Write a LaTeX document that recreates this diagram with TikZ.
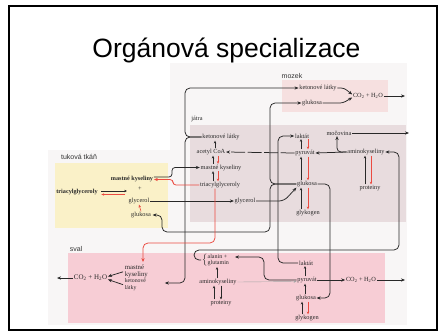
\documentclass[tikz,border=0pt]{standalone}
\usepackage{fontspec}
\setmainfont{Liberation Serif}
\newfontfamily\sansf{Liberation Sans}
\usetikzlibrary{arrows.meta}
\definecolor{redline}{RGB}{235,75,65}
\definecolor{pagebg}{RGB}{248,246,246}
\definecolor{jatrabg}{RGB}{232,220,222}
\definecolor{mozekbg}{RGB}{246,224,224}
\definecolor{tukbg}{RGB}{250,241,200}
\definecolor{svalbg}{RGB}{247,205,213}
\definecolor{ink}{RGB}{40,40,40}
\begin{document}
\begin{tikzpicture}[x=1pt,y=-1pt,
 lbl/.style={font=\fontsize{6.3}{7}\selectfont, inner sep=0.6pt, text=ink},
 blbl/.style={font=\bfseries\fontsize{6.2}{7}\selectfont, inner sep=0.6pt, text=ink},
 reg/.style={font=\sansf\fontsize{7}{8}\selectfont, inner sep=0pt, text=black!80},
 con/.style={draw=ink, line width=0.75pt, rounded corners=5pt},
 arr/.style={con, -{Stealth[length=4pt,width=3.2pt]}},
 sarr/.style={draw=ink, line width=0.6pt, -{Stealth[length=2.8pt,width=2.4pt]}},
 rarr/.style={draw=redline, line width=0.6pt, -{Stealth[length=2.8pt,width=2.4pt]}},
 rcon/.style={draw=redline, line width=0.75pt, rounded corners=5pt, -{Stealth[length=4pt,width=3.2pt]}},
]
\useasboundingbox (0,0) rectangle (439,332);
\fill[white] (0,0) rectangle (439,332);
% backgrounds
\fill[pagebg] (170,63) rectangle (407,150);
\fill[pagebg] (48,150) rectangle (407,325);
\fill[jatrabg] (190,125) rectangle (406,222);
\fill[mozekbg] (282,80) rectangle (388,112);
\fill[tukbg] (55,163) rectangle (168,228);
\fill[svalbg] (68,253) rectangle (385,323);
% frame
\draw[line width=2pt] (9,6) rectangle (437,330);
% title
\node[font=\sansf\fontsize{26.5}{30}\selectfont, inner sep=0pt, anchor=base] (title) at (226.5,57.5) {Orgánová specializace};
% mozek
\node[reg] (mozekL) at (292,76) {mozek};
\node[lbl] (mKL) at (318,88) {ketonové látky};
\node[lbl] (mGl) at (312,103) {glukosa};
\node[lbl] (mCO) at (368,96) {CO\textsubscript{2} + H\textsubscript{2}O};
\coordinate (mOut) at (405,96);
% jatra
\node[lbl] (jatraL) at (197,119) {játra};
\node[lbl] (jKL) at (221,137) {ketonové látky};
\node[lbl] (jAC) at (211,152) {acetyl CoA};
\node[lbl] (jMK) at (221,167.5) {mastné kyseliny};
\node[lbl] (jTG) at (220,185) {triacylglyceroly};
\node[lbl] (jGly) at (245,201) {glycerol};
\node[lbl] (jLak) at (302,136) {laktát};
\node[lbl] (jPyr) at (305,153) {pyruvát};
\node[lbl] (jGlu) at (307,184) {glukosa};
\node[lbl] (jGlg) at (308,213) {glykogen};
\node[lbl] (jMoc) at (339,133) {močovina};
\node[lbl] (jAK) at (366,152) {aminokyseliny};
\node[lbl] (jPro) at (370,188) {proteiny};
\coordinate (jOut) at (409,133);
% tukova tkan
\node[reg] (tukL) at (79,157) {tuková tkáň};
\node[blbl] (tMK) at (132,179) {mastné kyseliny};
\node[blbl] (tTG) at (77,192) {triacylglyceroly};
\node[lbl] (tPlus) at (140,189) {+};
\node[lbl] (tGly) at (139,201) {glycerol};
\node[lbl] (tGlu) at (141,215) {glukosa};
\coordinate (tArrEnd) at (127,191);
\coordinate (tRedStart) at (125,194.5);
% sval
\node[reg] (svalL) at (76,249) {sval};
\node[lbl, font=\fontsize{7}{8}\selectfont] (sCO) at (90.5,278) {CO\textsubscript{2} + H\textsubscript{2}O};
\coordinate (sOut) at (57,278);
\node[lbl, font=\fontsize{6.8}{7}\selectfont, align=left, anchor=west] (sMK) at (124,271.5) {mastné\\kyseliny};
\node[lbl, font=\fontsize{5.8}{7}\selectfont, align=left, anchor=west] (sKL) at (124,285) {ketonové\\látky};
\node[lbl, font=\fontsize{6}{6.2}\selectfont] (sAla) at (216,260) {$\left\{\begin{tabular}{@{}l@{}}alanin +\\glutamin\end{tabular}\right.$};
\node[lbl] (sAK) at (218,282) {aminokyseliny};
\node[lbl] (sPro) at (221,303) {proteiny};
\node[lbl] (sLak) at (306,263) {laktát};
\node[lbl] (sPyr) at (307,280) {pyruvát};
\node[lbl] (sCO2) at (361,280) {CO\textsubscript{2} + H\textsubscript{2}O};
\node[lbl] (sGlu) at (306,298) {glukosa};
\node[lbl] (sGlg) at (307,318) {glykogen};
\coordinate (sOut2) at (405,280);
% ---- connectors: mozek
\draw[arr, rounded corners=3pt] (mKL.east) -- (344,88) -- ([yshift=1.5pt]mCO.west);
\draw[arr, rounded corners=3pt] (mGl.east) -- (343,103) -- ([yshift=-1.5pt]mCO.west);
\draw[arr] (mCO.east) -- (mOut);
% ketonove latky brace
\draw[arr] (jKL.west) -- (185,137) -- (185,88) -- (mKL.west);
\draw[arr, shorten >=18pt] (jKL.west) -- (185,137) -- (185,283) -- (sKL.east |- 0,283);
% tukova <-> jatra
\draw[arr, rounded corners=3pt] ([yshift=2pt]tMK.east) -- (172,177) -- (172,167.5) -- (jMK.west);
\draw[rcon, rounded corners=3pt] (jTG.west) -- (173,185) -- (173,179.5) -- ([yshift=-0.5pt]tMK.east);
\draw[sarr, shorten <=3pt] ([yshift=1pt]tTG.east) -- (tArrEnd);
\draw[rarr, shorten >=3pt] (tRedStart) -- (tTG.east |- tRedStart);
\draw[rarr] (tGlu.north) -- (tGly.south);
\draw[arr] (tGly.east) -- (jGly.west);
% glycerol -> glukosa
\draw[arr] (jGly.east) -- (284,201) -- (jGlu.south west);
% glukosa brace
\draw[arr] (jGlu.west) -- (270,184) -- (270,103) -- (mGl.west);
\draw[arr, shorten >=1pt] (jGlu.west) -- (270,184) -- (270,232) -- (162,232) -- (162,215) -- (tGlu.east);
% glukosa -> sval glukosa
\draw[arr] (jGlu.east) -- (330,184) -- (330,298) -- (sGlu.east);
% laktat
\draw[arr] (sLak.west) -- (278,263) -- (278,136) -- (jLak.west);
% pyruvat -> acetyl CoA (dashed)
\draw[arr, dash pattern=on 14pt off 2.5pt] (jPyr.west) -- (jAC.east);
% jatra verticals
\draw[sarr] (215,0 |- jAC.north) -- (215,0 |- jKL.south);
\draw[sarr] (213,0 |- jMK.north) -- (213,0 |- jAC.south);
\draw[rarr] (218,0 |- jAC.south) -- (218,0 |- jMK.north);
\draw[sarr] (213,0 |- jTG.north) -- (213,0 |- jMK.south);
\draw[rarr] (218,0 |- jMK.south) -- (218,0 |- jTG.north);
\draw[sarr] (301,0 |- jPyr.north) -- (301,0 |- jLak.south);
\draw[rarr] (308,0 |- jLak.south) -- (308,0 |- jPyr.north);
\draw[sarr] (301,0 |- jGlu.north) -- (301,0 |- jPyr.south);
\draw[rarr] (308,0 |- jPyr.south) -- (308,0 |- jGlu.north);
\draw[sarr] (301,0 |- jGlg.north) -- (301,0 |- jGlu.south);
\draw[rarr] (308,0 |- jGlu.south) -- (308,0 |- jGlg.north);
\draw[sarr] (365,0 |- jPro.north) -- (365,0 |- jAK.south);
\draw[rarr] (371,0 |- jAK.south) -- (371,0 |- jPro.north);
% aminokyseliny jatra
\draw[arr] (jAK.west) -- (jPyr.east);
\draw[arr, rounded corners=4pt] (jAK.west) -- (337,152) -- (337,0 |- jMoc.south);
\draw[arr] (jMoc.east) -- (jOut);
% alanin -> aminokyseliny (jatra)
\draw[arr] (sAla.west) -- (194,260) -- (194,250) -- (399,250) -- (399,152) -- (jAK.east);
% sval connectors
\draw[arr, shorten >=4pt] (sPyr.west) -- (264,280) -- (264,257) -- (sAla.east |- 0,257);
\draw[draw=gray!70, line width=0.4pt, -{Stealth[length=3pt,width=2.4pt]}] (sAK.east) -- ([yshift=-1.5pt]sPyr.west);
\draw[sarr] (217,0 |- sAK.north) -- (217,0 |- sAla.south);
\draw[sarr] (214,0 |- sPro.north) -- (214,0 |- sAK.south);
\draw[sarr] (221,0 |- sAK.south) -- (221,0 |- sPro.north);
\draw[sarr] (305,0 |- sPyr.north) -- (305,0 |- sLak.south);
\draw[sarr] (305,0 |- sGlu.north) -- (305,0 |- sPyr.south);
\draw[sarr] (302,0 |- sGlg.north) -- (302,0 |- sGlu.south);
\draw[rarr] (308,0 |- sGlu.south) -- (308,0 |- sGlg.north);
\draw[arr] (sPyr.east) -- (sCO2.west);
\draw[arr] (sCO2.east) -- (sOut2);
\draw[arr, shorten <=1pt] (sMK.west) -- ([yshift=1.5pt]sCO.east);
\draw[arr, shorten <=1pt] (sKL.west) -- ([yshift=-1.5pt]sCO.east);
\draw[arr] (sCO.west) -- (sOut);
% red triacylglyceroly -> sval mastne kyseliny
\draw[rcon, shorten >=2pt] (215,0 |- jTG.south) -- (215,243) -- (143,243) -- (143,0 |- sMK.north);
\end{tikzpicture}
\end{document}
